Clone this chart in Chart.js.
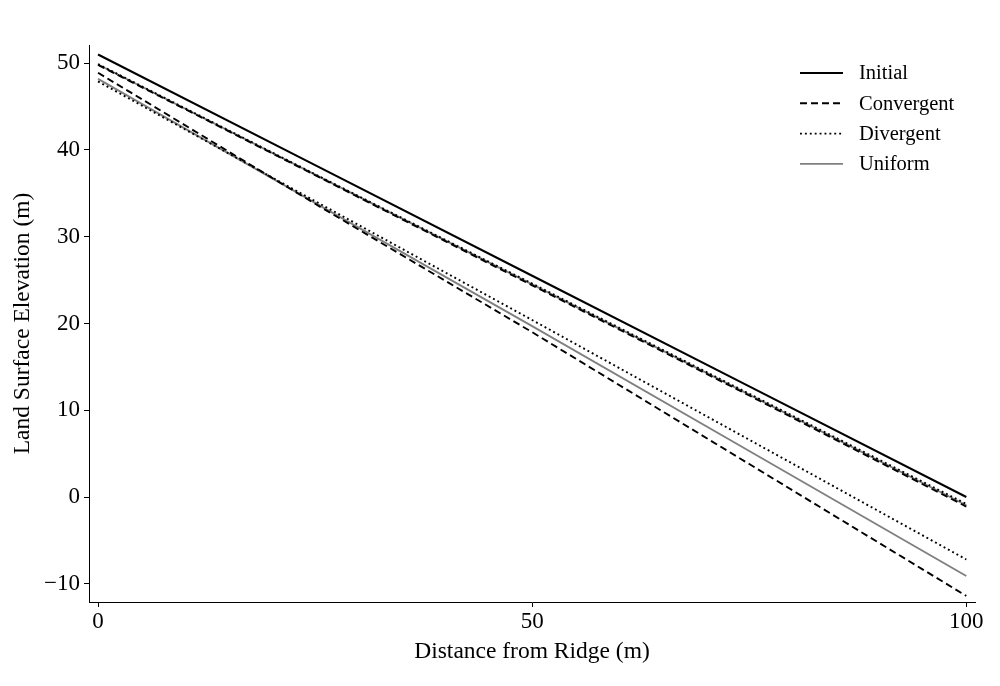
<!DOCTYPE html>
<html>
<head>
<meta charset="utf-8">
<script src="https://cdn.jsdelivr.net/npm/chart.js@4.4.1/dist/chart.umd.min.js"></script>
<style>
html,body{margin:0;padding:0;background:#fff;}
#c{display:block;}
</style>
</head>
<body>
<canvas id="c" width="1000" height="686"></canvas>
<script>
// Data
const distance = [0, 25, 50, 75, 100];
const initial = [51.0, 38.25, 25.5, 12.75, 0.0];
const convergentA = [49.8, 37.1, 24.4, 11.7, -1.1];
const divergentA = [49.9, 37.2, 24.6, 11.9, -0.8];
const uniformA = [49.85, 37.15, 24.5, 11.8, -0.95];
const convergentB = [48.9, 33.8, 19.0, 3.8, -11.4];
const uniformB = [48.2, 33.9, 19.7, 5.3, -9.1];
const divergentB = [47.9, 34.1, 20.4, 6.6, -7.2];
const yTicks = [-10, 0, 10, 20, 30, 40, 50];
const xTicks = [0, 50, 100];
const legendLabels = ['Initial', 'Convergent', 'Divergent', 'Uniform'];

const pts = arr => arr.map((v, i) => ({x: distance[i], y: v}));
const FONT = '"Liberation Serif", "DejaVu Serif", serif';

const styles = {
  Initial: {borderColor: '#000', borderWidth: 2.1, borderDash: []},
  Convergent: {borderColor: '#000', borderWidth: 1.9, borderDash: [7, 4]},
  Divergent: {borderColor: '#000', borderWidth: 1.9, borderDash: [1.9, 3]},
  Uniform: {borderColor: '#808080', borderWidth: 1.9, borderDash: []}
};
function ds(label, arr, style) {
  return Object.assign({label, data: pts(arr), pointRadius: 0, fill: false, tension: 0}, styles[style]);
}

const legendPlugin = {
  id: 'customLegend',
  afterDraw(chart) {
    const ctx = chart.ctx;
    ctx.save();
    legendLabels.forEach((lab, i) => {
      const y = 73 + i * 30.3;
      const s = styles[lab];
      ctx.beginPath();
      ctx.strokeStyle = s.borderColor;
      ctx.lineWidth = s.borderWidth;
      ctx.setLineDash(s.borderDash);
      ctx.moveTo(800, y);
      ctx.lineTo(843, y);
      ctx.stroke();
      ctx.setLineDash([]);
      ctx.fillStyle = '#000';
      ctx.font = '20.5px ' + FONT;
      ctx.textAlign = 'left';
      ctx.textBaseline = 'middle';
      ctx.fillText(lab, 859, y + 1);
    });
    ctx.restore();
  }
};

new Chart(document.getElementById('c'), {
  type: 'line',
  data: {
    datasets: [
      ds('Initial', initial, 'Initial'),
      ds('Convergent', convergentA, 'Convergent'),
      ds('Divergent', divergentA, 'Divergent'),
      ds('Uniform', uniformA, 'Uniform'),
      ds('Convergent B', convergentB, 'Convergent'),
      ds('Divergent B', divergentB, 'Divergent'),
      ds('Uniform B', uniformB, 'Uniform')
    ]
  },
  options: {
    responsive: false,
    animation: false,
    layout: {padding: {top: 45, right: 25, left: 0, bottom: 0}},
    plugins: {legend: {display: false}, tooltip: {enabled: false}},
    scales: {
      x: {
        type: 'linear',
        min: -1.04,
        max: 101,
        afterBuildTicks: s => { s.ticks = xTicks.map(v => ({value: v})); },
        afterFit: s => { s.height = 84; },
        grid: {display: true, drawOnChartArea: false, drawTicks: true, tickLength: 5, color: '#000'},
        border: {display: true, color: '#000', width: 1},
        ticks: {color: '#000', font: {family: FONT, size: 23}, padding: 1, maxRotation: 0},
        title: {display: true, text: 'Distance from Ridge (m)', color: '#000', font: {family: FONT, size: 23.5}, padding: {top: 2, bottom: 20}}
      },
      y: {
        min: -12.1,
        max: 52.1,
        afterBuildTicks: s => { s.ticks = yTicks.map(v => ({value: v})); },
        afterFit: s => { s.width = 89; },
        grid: {display: true, drawOnChartArea: false, drawTicks: true, tickLength: 5, color: '#000'},
        border: {display: true, color: '#000', width: 1},
        ticks: {color: '#000', font: {family: FONT, size: 23}, padding: 4,
          callback: v => String(v).replace('-', '\u2212')},
        title: {display: true, text: 'Land Surface Elevation (m)', color: '#000', font: {family: FONT, size: 23.5}, padding: {top: 9, bottom: 4}}
      }
    }
  },
  plugins: [legendPlugin]
});
</script>
</body>
</html>
